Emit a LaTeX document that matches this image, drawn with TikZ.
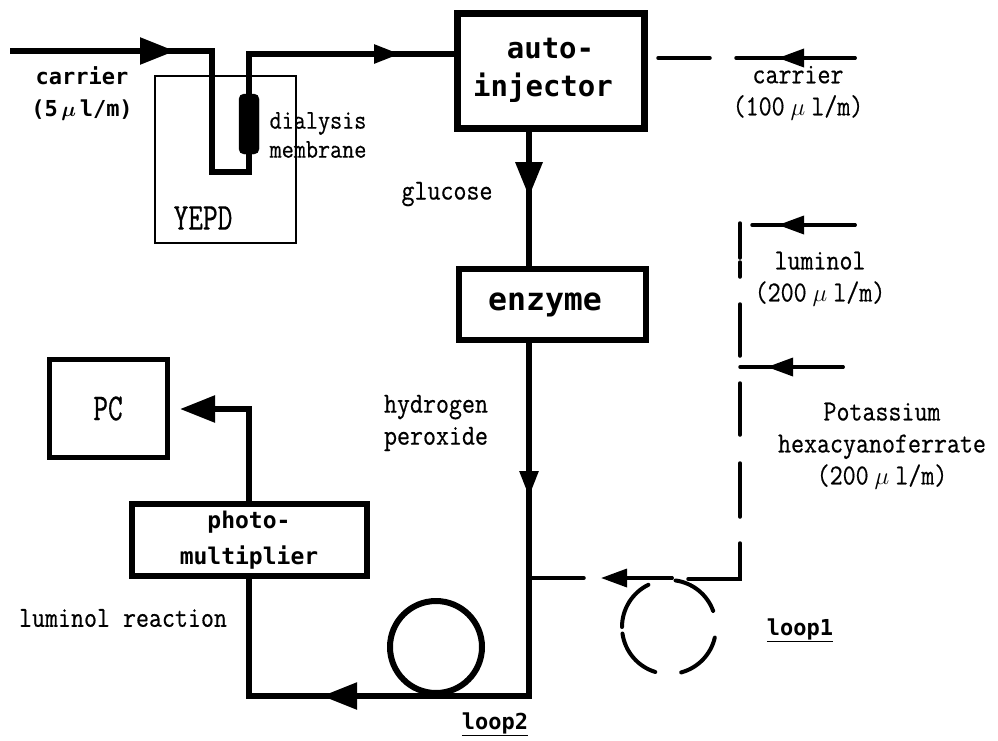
\documentclass[tikz,border=0pt]{standalone}
\usepackage{fontspec}
\usetikzlibrary{arrows.meta}
\newfontfamily\sansmono{DejaVu Sans Mono}
\newfontfamily\serifmono{Latin Modern Mono}[FakeStretch=0.87,FakeBold=0.5]
\newfontfamily\tallmono{Latin Modern Mono}[FakeStretch=0.75,FakeBold=0.5]
\newcommand{\um}{\hspace{6pt}$\mu$\hspace{6pt}}
\newcommand{\umb}{\,{\boldmath$\mu$}\,}
\begin{document}
\begin{tikzpicture}[x=1pt,y=-1pt,line cap=round]
\tikzstyle{lbl}=[inner sep=0pt, align=center, font=\serifmono\fontsize{29}{32}\selectfont]
\tikzstyle{lblb}=[inner sep=0pt, align=center, font=\sansmono\bfseries\fontsize{22}{32}\selectfont]
\tikzstyle{boxb}=[draw, rectangle, inner sep=0pt, outer sep=0pt, align=center, line width=6pt, font=\sansmono\bfseries\fontsize{29}{38}\selectfont]
\tikzstyle{boxs}=[draw, rectangle, inner sep=0pt, outer sep=0pt, align=center, line width=5pt, font=\tallmono\fontsize{38}{40}\selectfont]
\tikzstyle{pipe}=[line width=6.5pt, line cap=butt]
\tikzstyle{pipem}=[line width=5.5pt, line cap=butt]
\tikzstyle{tube}=[line width=3.5pt]
\tikzstyle{headl}=[-{Triangle[length=35pt,width=26pt]}]
\tikzstyle{headm}=[-{Triangle[length=26pt,width=18pt]}]
\useasboundingbox (0,0) rectangle (998,740);
% boxes
\node[draw, line width=2.5pt, minimum width=141pt, minimum height=167pt, inner sep=0pt, outer sep=0pt] (yepd) at (225.5,159.5) {};
\node[boxb, line width=7pt, minimum width=187pt, minimum height=115pt] (inj) at (550.5,70.5) {auto-\\injector\hspace*{15pt}};
\node[boxb, minimum width=187pt, minimum height=71pt, font=\sansmono\bfseries\fontsize{31.5}{38}\selectfont] (enz) at (552.5,304.5) {\raisebox{-5pt}{enzyme}\hspace*{15pt}};
\node[boxb, minimum width=235pt, minimum height=72pt, font=\sansmono\bfseries\fontsize{23}{36}\selectfont] (pmt) at (249,540) {photo-\\multiplier};
\node[boxs, minimum width=118pt, minimum height=98pt] (pc) at (108,408.5) {PC};
\node[circle, draw, line width=6pt, minimum size=92pt, inner sep=0pt, outer sep=0pt] (loopb) at (436,647) {};
\node[draw, fill, rectangle, rounded corners=5pt, minimum width=20pt, minimum height=60pt, inner sep=0pt, outer sep=0pt] (memb) at (249,124) {};
% labels
\node[lblb] (lcar) at (82,94) {carrier\\(5\umb l/m)};
\node[lbl, font=\serifmono\fontsize{27}{29}\selectfont] (ldia) at (318,135) {dialysis\\membrane};
\node[lbl, font=\tallmono\fontsize{38}{40}\selectfont] (lyepd) at (203,218) {YEPD};
\node[lbl] (lglu) at (447,194) {glucose};
\node[lbl] (lcarb) at (798,93) {carrier\\(100\um l/m)};
\node[lbl] (llum) at (820,279) {luminol\\(200\um l/m)};
\node[lbl] (lpot) at (882,446) {Potassium\\hexacyanoferrate\\(200\um l/m)};
\node[lbl] (lhyd) at (436,423) {hydrogen\\peroxide};
\node[lbl] (lrea) at (123,618) {luminol reaction};
\node[lblb] (lloopa) at (800,630) {\underline{loop1}};
\node[lblb] (lloopb) at (495,724) {\underline{loop2}};
% free ends and bends
\coordinate (ca) at (10,51);
\coordinate (cb) at (175,51);
\coordinate (cc) at (212,51);
\coordinate (cd) at (212,172);
\coordinate (ce) at (249,172);
\coordinate (cf) at (249,54);
\coordinate (cg) at (400,54);
\coordinate (ch) at (529,197);
\coordinate (ci) at (529,497);
\coordinate (cj) at (529,696);
\coordinate (ck) at (322,696);
\coordinate (cl) at (249,696);
\coordinate (cm) at (249,409);
\coordinate (cn) at (180,409);
\coordinate (ta) at (658,58);
\coordinate (tb) at (710,58);
\coordinate (tc) at (736,58);
\coordinate (td) at (778,58);
\coordinate (te) at (855,58);
\coordinate (ua) at (752,225);
\coordinate (ub) at (778,225);
\coordinate (uc) at (855,225);
\coordinate (va) at (740,367);
\coordinate (vb) at (767,367);
\coordinate (vc) at (843,367);
\coordinate (wa) at (529,578);
\coordinate (wb) at (584,578);
\coordinate (wc) at (601,578);
\coordinate (wd) at (672,578);
\coordinate (we) at (688,579);
\coordinate (wf) at (740,579);
\coordinate (wg) at (740,543);
% thick lines
\draw[pipe, line join=miter] (ca) -- (cb) -- (cc) -- (cd) -- (ce) -- (cf) -- (cg) -- (inj.west |- cg);
\draw[pipem, headl] (ca) -- (cb);
\draw[pipem, headm] (cf) -- (cg);
\draw[pipe] (inj.south -| ch) -- (enz.north -| ch);
\draw[pipe, headl] (inj.south -| ch) -- (ch);
\draw[pipem, line join=miter] (enz.south -| ci) -- (cj) -- (ck);
\draw[pipem, headm] (enz.south -| ci) -- (ci);
\draw[pipem, headl] (cj) -- (ck);
\draw[pipem, line join=miter] (ck) -- (cl) -- (pmt.south);
\draw[pipem, line join=miter, shorten >=15pt] (pmt.north) -- (cm) -- (cn);
\draw[pipem, headl] (cm) -- (cn);
% thin lines
\foreach \i/\j in {ta/tb,tc/td,td/te,ua/ub,ub/uc,va/vb,vb/vc,wa/wb}{\draw[tube] (\i) -- (\j);}
\draw[tube, shorten <=12pt] (wc) -- (wd);
\draw[tube, line join=miter] (we) -- (wf) -- (wg);
\foreach \i/\j in {te/td,uc/ub,vc/vb,wd/wc}{\draw[tube, headm] (\i) -- (\j);}
\foreach \i/\j in {223/258,262/277,304/356,383/435,463/517}{\draw[tube] (740,\i) -- (740,\j);}
\foreach \i/\j in {20/82,116/180,188/253,285/347}{\draw[line width=4pt] (669,627) ++(\i:47 and -47) arc[start angle=\i, end angle=\j, x radius=47, y radius=-47];}
\end{tikzpicture}
\end{document}
